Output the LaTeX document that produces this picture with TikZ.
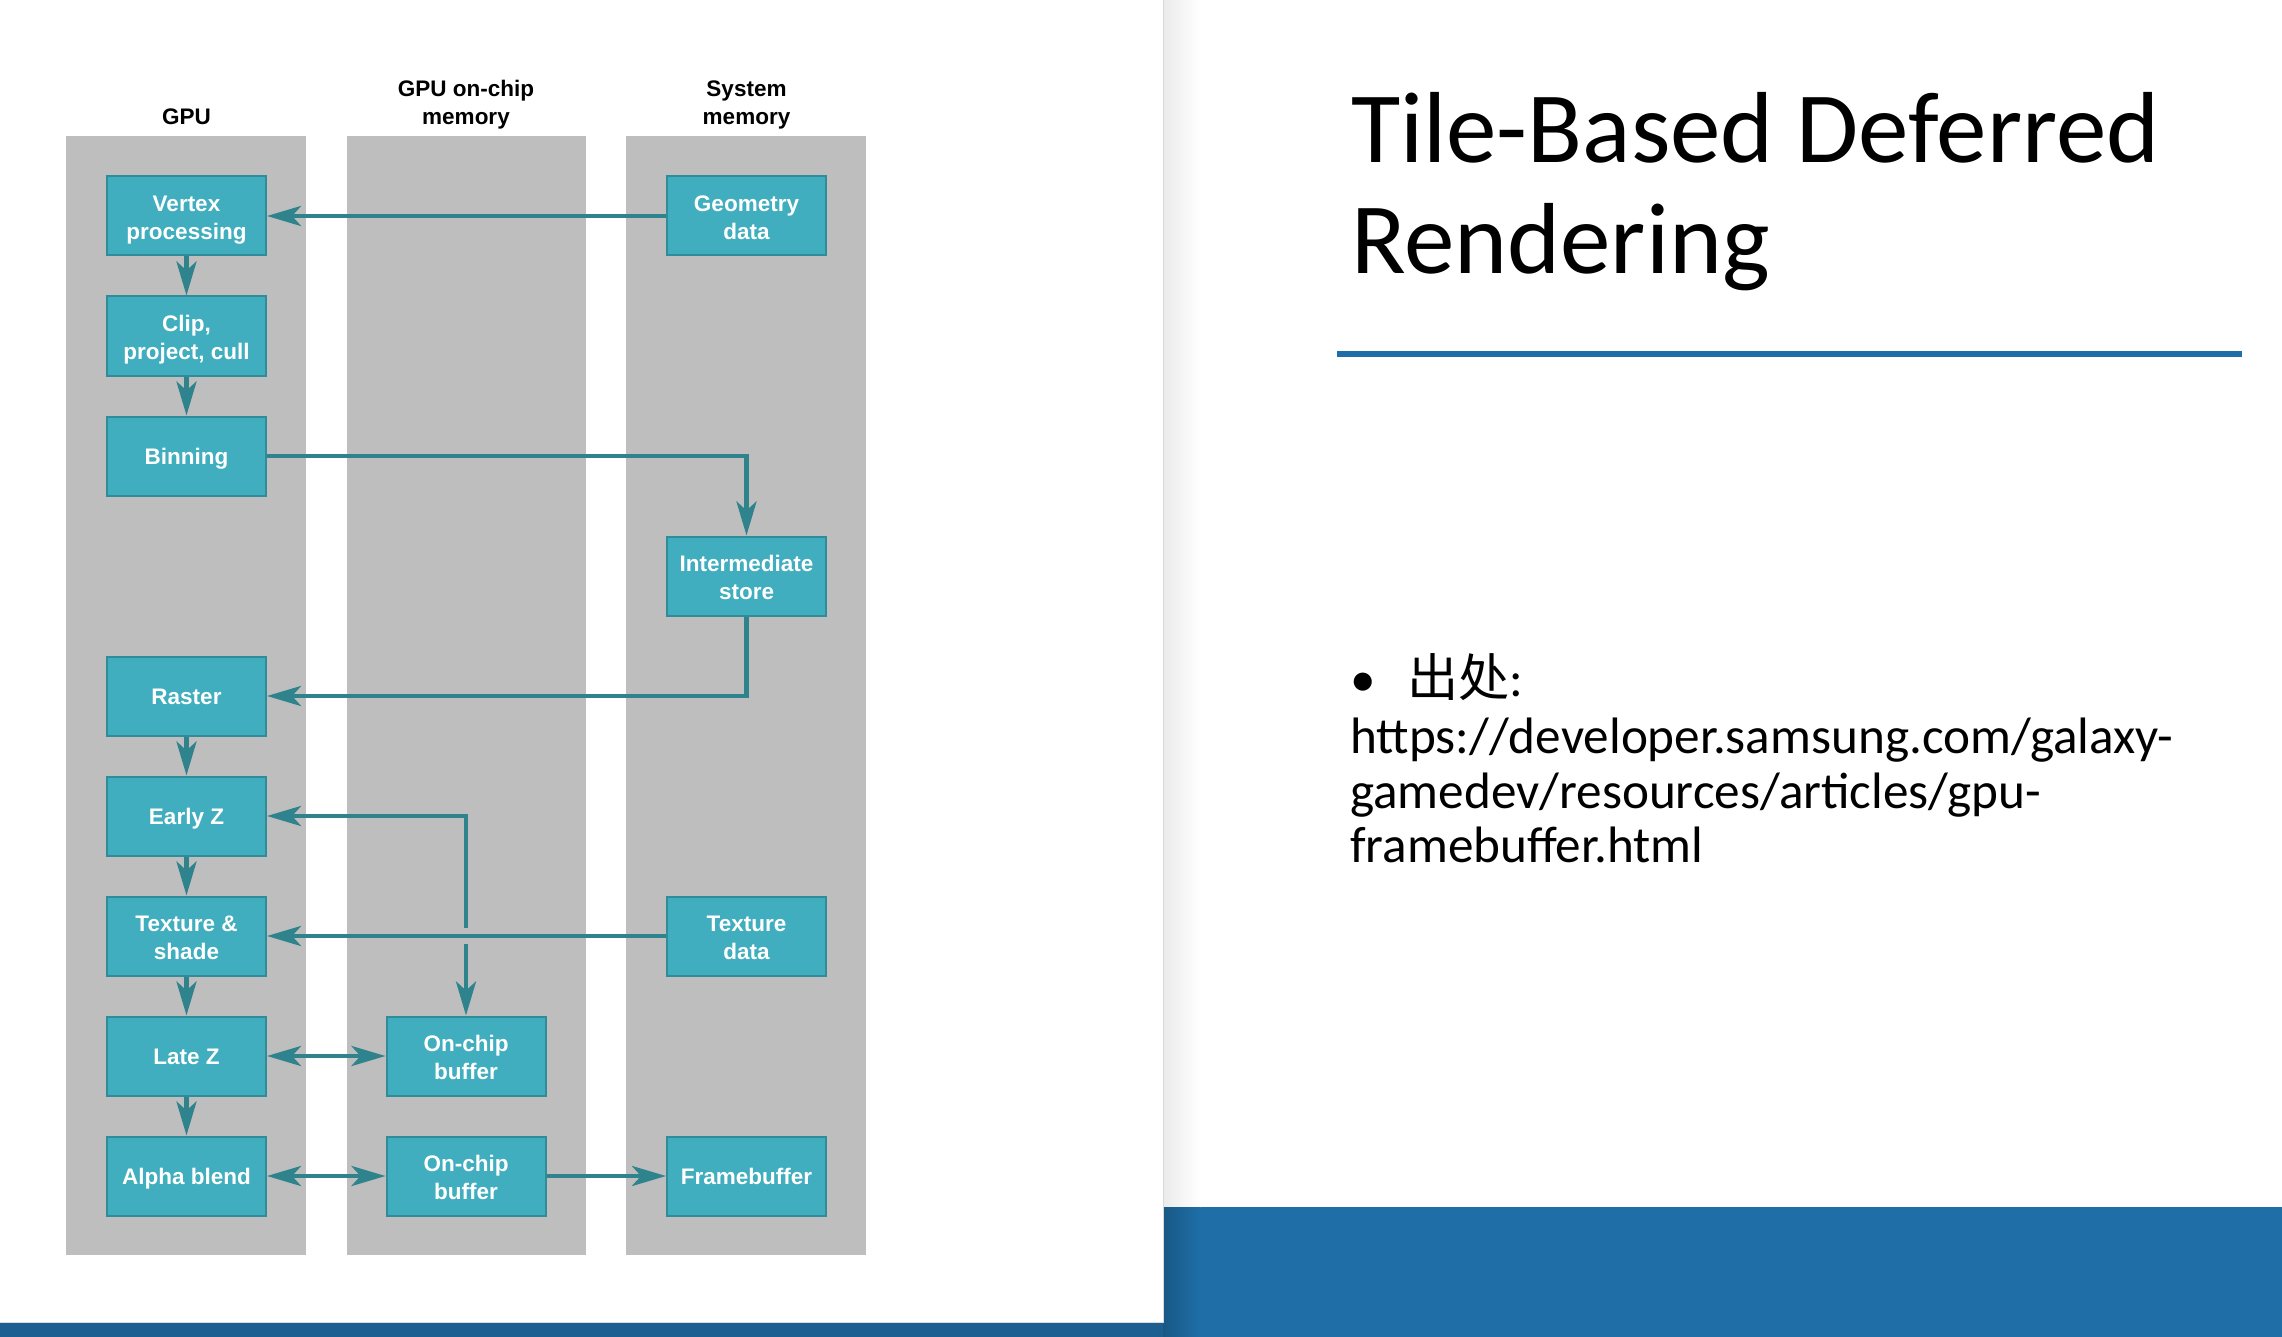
\documentclass[tikz,border=0pt]{standalone}
\usepackage{fontspec}
\setmainfont{Carlito}
\newfontfamily\diagfont{Liberation Sans}
\newfontfamily\cjkfont{Noto Sans CJK SC}
\usetikzlibrary{arrows.meta,calc}

\definecolor{lanegray}{HTML}{BEBEBE}
\definecolor{boxfill}{HTML}{40AEBE}
\definecolor{boxedge}{HTML}{2F8C98}
\definecolor{flow}{HTML}{2E838D}
\definecolor{slideblue}{HTML}{1F6EA7}
\definecolor{shadeblue}{HTML}{1E5F92}

% fixed line boxes so labels sit alike whatever their letters
\newcommand\boxstrut{\rule[-5pt]{0pt}{27pt}}
\newcommand\twolines[2]{\rule{0pt}{24pt}#1\\#2\rule[-5pt]{0pt}{5pt}}

\tikzset{
  lane/.style={fill=lanegray},
  stage/.style={draw=boxedge, line width=2pt, fill=boxfill,
    minimum width=159pt, minimum height=79pt, inner sep=0pt,
    text=white, align=center,
    execute at begin node=\boxstrut,
    font=\diagfont\bfseries\fontsize{22.5}{28}\selectfont},
  lanehead/.style={align=center, inner sep=0pt,
    execute at begin node=\boxstrut,
    font=\diagfont\bfseries\fontsize{22.5}{28}\selectfont},
  tipshape/.tip={Stealth[length=34pt, width=20pt, inset=9pt]},
  flowline/.style={draw=flow, line width=4.5pt},
  flowarrow/.style={flowline, -tipshape},
  flowboth/.style={flowline, tipshape-tipshape},
  slidetext/.style={anchor=base west, inner sep=0pt, text=black},
  titlefont/.style={font=\fontsize{101}{110}\selectfont},
  bodyfont/.style={font=\fontsize{51.2}{55}\selectfont},
}

\begin{document}
\begin{tikzpicture}[x=1pt, y=-1pt]
  % page
  \fill[white] (0,0) rectangle (2282,1337);
  \useasboundingbox (0,0) rectangle (2282,1337);

  % slide footer band
  \fill[slideblue] (0,1207) rectangle (2282,1337);

  % drop shadow of the figure panel
  \shade[left color=black!8, right color=white] (1163,0) rectangle (1200,1207);
  \shade[left color=slideblue!80!black, right color=slideblue] (1163,1207) rectangle (1200,1337);
  \fill[shadeblue] (0,1322) rectangle (1163,1337);

  % figure panel
  \fill[white] (0,0) rectangle (1163,1322);
  \draw[black!15, line width=0.8pt] (1163,0) -- (1163,1322) -- (0,1322);

  % swim lanes
  \fill[lane] (66,136) rectangle (306,1255);
  \fill[lane] (347,136) rectangle (586,1255);
  \fill[lane] (626,136) rectangle (866,1255);

  \node[lanehead] (hgpu) at (186.5,116) {GPU};
  \node[lanehead] (hchip) at (466,101.5) {\twolines{GPU on-chip}{memory}};
  \node[lanehead] (hsys) at (746.5,101.5) {\twolines{System}{memory}};

  % GPU stages
  \node[stage] (vert)   at (186.5,216) {\twolines{Vertex}{processing}};
  \node[stage] (clip)   at (186.5,336) {\twolines{Clip,}{project, cull}};
  \node[stage] (bin)    at (186.5,456) {Binning};
  \node[stage] (raster) at (186.5,696) {Raster};
  \node[stage] (earlyz) at (186.5,816) {Early Z};
  \node[stage] (texsh)  at (186.5,936) {\twolines{Texture \&}{shade}};
  \node[stage] (latez)  at (186.5,1056) {Late Z};
  \node[stage] (alpha)  at (186.5,1176) {Alpha blend};

  % on-chip memory
  \node[stage] (bufa) at (466,1056) {\twolines{On-chip}{buffer}};
  \node[stage] (bufb) at (466,1176) {\twolines{On-chip}{buffer}};

  % system memory
  \node[stage] (geo)   at (746.5,216) {\twolines{Geometry}{data}};
  \node[stage] (store) at (746.5,576) {\twolines{Intermediate}{store}};
  \node[stage] (texd)  at (746.5,936) {\twolines{Texture}{data}};
  \node[stage] (fb)    at (746.5,1176) {Framebuffer};

  % pipeline flow
  \draw[flowarrow] (vert) -- (clip);
  \draw[flowarrow] (clip) -- (bin);
  \draw[flowarrow] (raster) -- (earlyz);
  \draw[flowarrow] (earlyz) -- (texsh);
  \draw[flowarrow] (texsh) -- (latez);
  \draw[flowarrow] (latez) -- (alpha);

  % memory traffic
  \draw[flowarrow] (geo.west) -- (vert.east);
  \draw[flowarrow] (bin.east) -| (store.north);
  \draw[flowarrow] (store.south) |- (raster.east);
  \draw[flowarrow] (texd.west) -- (texsh.east);

  % depth path with a gap where it crosses the texture fetch
  \coordinate (hopup) at ($(bufa.north |- texsh.east)+(0,-8)$);
  \coordinate (hopdown) at ($(bufa.north |- texsh.east)+(0,8)$);
  \draw[flowarrow] (hopup) |- (earlyz.east);
  \draw[flowarrow] (hopdown) -- (bufa.north);

  \draw[flowboth] (latez.east) -- (bufa.west);
  \draw[flowboth] (alpha.east) -- (bufb.west);
  \draw[flowarrow] (bufb.east) -- (fb.west);

  % slide title
  \node[slidetext, titlefont] (t1) at (1351,163) {Tile-Based Deferred};
  \node[slidetext, titlefont] (t2) at (1351,274) {Rendering};
  \fill[slideblue] (1337,351) rectangle (2242,357);

  % source note
  \node[slidetext, bodyfont] (bul) at (1350,696) {•};
  \node[slidetext, bodyfont] (src) at (1407,696) {{\cjkfont 出处}:};
  \node[slidetext, bodyfont] (u1) at (1350,753) {https://developer.samsung.com/galaxy-};
  \node[slidetext, bodyfont] (u2) at (1350,808) {gamedev/resources/articles/gpu-};
  \node[slidetext, bodyfont] (u3) at (1350,862) {framebuffer.html};
\end{tikzpicture}
\end{document}
